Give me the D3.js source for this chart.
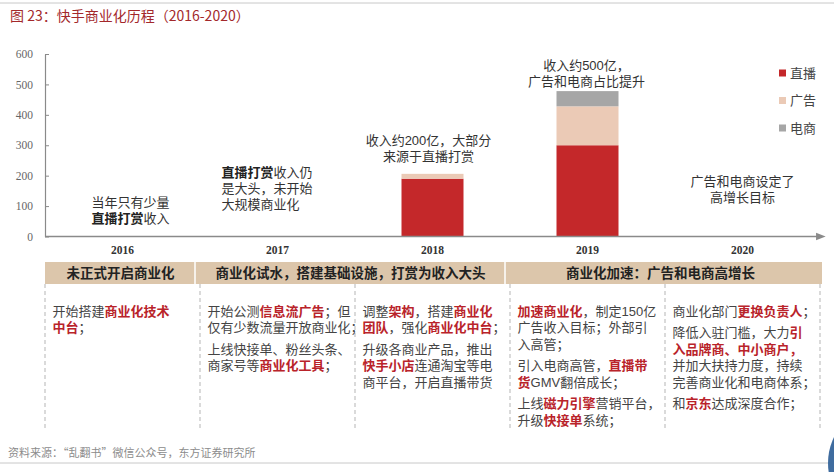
<!DOCTYPE html>
<html>
<head>
<meta charset="utf-8">
<script src="https://cdn.jsdelivr.net/npm/d3@7/dist/d3.min.js"></script>
<style>
	html, body { margin: 0; padding: 0; background: #fff; }
	svg { display: block; }
	.cjk { font-family: "Liberation Sans", "Noto Sans CJK SC", sans-serif; }
	.cjk-only { font-family: "Noto Sans CJK SC", sans-serif; }
	.serif { font-family: "Liberation Serif", "DejaVu Serif", serif; }
</style>
</head>
<body>
<div id="chart"></div>
<script>
// data
const years		= ['2016', '2017', '2018', '2019', '2020'];
const liveVals	= [0, 0, 190, 300, 0];
const adVals	= [0, 0, 16, 128, 0];
const ecomVals	= [0, 0, 0, 50, 0];
const seriesKeys	= ['live', 'ad', 'ecom'];
const seriesNames	= ['直播', '广告', '电商'];
const yTicks	= [0, 100, 200, 300, 400, 500, 600];

// ** ** = bold, [ ] = bold red
const barNotes = [
	['当年只有少量', '**直播打赏**收入'],
	['**直播打赏**收入仍', '是大头，未开始', '大规模商业化'],
	['收入约200亿，大部分', '来源于直播打赏'],
	['收入约500亿，', '广告和电商占比提升'],
	['广告和电商设定了', '高增长目标']
];

const phaseLabels	= ['未正式开启商业化', '商业化试水，搭建基础设施，打赏为收入大头', '商业化加速：广告和电商高增长'];
const phaseFrom		= ['2016', '2017', '2019'];
const phaseTo		= ['2016', '2018', '2020'];

const details = [
	[['开始搭建[商业化技术]', '[中台]；']],
	[['开始公测[信息流广告]；但', '仅有少数流量开放商业化；'],
	 ['上线快接单、粉丝头条、', '商家号等[商业化工具]；']],
	[['调整[架构]，搭建[商业化]', '[团队]，强化[商业化中台]；'],
	 ['升级各商业产品，推出', '[快手小店]连通淘宝等电', '商平台，开启直播带货']],
	[['[加速商业化]，制定150亿', '广告收入目标；外部引', '入高管；'],
	 ['引入电商高管，[直播带]', '[货]GMV翻倍成长；'],
	 ['上线[磁力引擎]营销平台，', '升级[快接单]系统；']],
	[['商业化部门[更换负责人]；'],
	 ['降低入驻门槛，大力[引]', '[入品牌商、中小商户，]', '并加大扶持力度，持续', '完善商业化和电商体系；'],
	 ['和[京东]达成深度合作；']]
];

const title		= '图 23：快手商业化历程（2016-2020）';
const source	= '资料来源：“乱翻书”微信公众号，东方证券研究所';

const colors	= { live: '#c4282a', ad: '#ebcab6', ecom: '#a6a6a6' };
const redText	= '#b9232a';

// layout
const canvasWidth	= 834;
const canvasHeight	= 472;

let svg = d3.select('#chart').append('svg')
	.attr('width', canvasWidth)
	.attr('height', canvasHeight);

let x = d3.scaleBand().domain(years).range([45, 820]).paddingInner(0.6).paddingOuter(0.3);
let y = d3.scaleLinear().domain([0, 600]).range([236.5, 54]);
let colLeft = (yr) => x(yr) - (x.step() - x.bandwidth()) / 2;
let colMid	= (yr) => x(yr) + x.bandwidth() / 2;

// rich text helper
function richLine(sel, str) {
	str.split(/(\[[^\]]*\]|\*\*[^*]*\*\*)/).filter((s) => s.length).forEach((s) => {
		let t = sel.append('tspan');
		if (s[0] === '[') {
			t.text(s.slice(1, -1)).attr('fill', redText).attr('font-weight', 'bold');
		} else if (s.startsWith('**')) {
			t.text(s.slice(2, -2)).attr('fill', '#222').attr('font-weight', 'bold');
		} else {
			t.text(s);
		}
	});
}

// frame lines
svg.append('line').attr('x1', 0).attr('x2', canvasWidth).attr('y1', 3).attr('y2', 3)
	.attr('stroke', '#c8c8c8').attr('stroke-width', 1);
svg.append('line').attr('x1', 0).attr('x2', canvasWidth).attr('y1', 463).attr('y2', 463)
	.attr('stroke', '#c8c8c8').attr('stroke-width', 1);

// title
svg.append('text').attr('class', 'cjk-only')
	.attr('x', 10).attr('y', 21)
	.attr('font-size', 14).attr('fill', '#a3282b')
	.text(title);

// bars
let table = years.map((yr, i) => ({ year: yr, live: liveVals[i], ad: adVals[i], ecom: ecomVals[i] }));
let stacked = d3.stack().keys(seriesKeys)(table);

svg.append('g').selectAll('g')
	.data(stacked).enter().append('g')
		.attr('fill', (s) => colors[s.key])
	.selectAll('rect')
	.data((s) => s.filter((d) => d[1] > d[0])).enter().append('rect')
		.attr('x', (d) => x(d.data.year))
		.attr('width', x.bandwidth())
		.attr('y', (d) => y(d[1]))
		.attr('height', (d) => y(d[0]) - y(d[1]));

// y axis
let yAxis = svg.append('g')
	.attr('transform', 'translate(' + x.range()[0] + ',0)')
	.call(d3.axisLeft(y).tickValues(yTicks).tickSize(-4).tickSizeOuter(0).tickPadding(12));
yAxis.select('.domain').attr('stroke', '#8a8a8a').attr('stroke-width', 1.2);
yAxis.selectAll('.tick line').attr('stroke', '#8a8a8a');
yAxis.selectAll('.tick text')
	.attr('class', 'serif').attr('font-size', 11.5).attr('fill', '#666');

// x axis with arrow
svg.append('defs').append('marker')
	.attr('id', 'arrow').attr('viewBox', '0 0 10 10')
	.attr('refX', 2).attr('refY', 5)
	.attr('markerWidth', 6).attr('markerHeight', 6)
	.attr('orient', 'auto')
	.append('path').attr('d', 'M0,1L10,5L0,9Z').attr('fill', '#8a8a8a');

svg.append('line')
	.attr('x1', x.range()[0]).attr('x2', x.range()[1] - 2)
	.attr('y1', y(0)).attr('y2', y(0))
	.attr('stroke', '#8a8a8a').attr('stroke-width', 1.6)
	.attr('marker-end', 'url(#arrow)');

let xAxis = svg.append('g')
	.attr('transform', 'translate(0,' + y(0) + ')')
	.call(d3.axisBottom(x).tickSize(0).tickPadding(9));
xAxis.select('.domain').remove();
xAxis.selectAll('.tick text')
	.attr('class', 'serif').attr('font-size', 11.5).attr('font-weight', 'bold').attr('fill', '#333');

// legend
let legend = svg.append('g').attr('class', 'cjk');
seriesKeys.forEach((k, i) => {
	let cy = 73 + i * 27.5;
	legend.append('rect')
		.attr('x', 779).attr('y', cy - 3.5).attr('width', 7).attr('height', 7)
		.attr('fill', colors[k]);
	legend.append('text')
		.attr('x', 790).attr('y', cy + 4.5)
		.attr('font-size', 13).attr('fill', '#444')
		.text(seriesNames[i]);
});

// bar annotations
let noteLayout = [
	{ dx: 8, top: 202, anchor: 'middle' },
	{ dx: -56, top: 172, anchor: 'start' },
	{ dx: -4, top: 140, anchor: 'middle' },
	{ dx: -1, top: 65, anchor: 'middle' },
	{ dx: 0, top: 181, anchor: 'middle' }
];
barNotes.forEach((lines, i) => {
	let lay = noteLayout[i];
	lines.forEach((ln, j) => {
		let t = svg.append('text').attr('class', 'cjk')
			.attr('x', colMid(years[i]) + lay.dx)
			.attr('y', lay.top + j * 16 + 4.5)
			.attr('text-anchor', lay.anchor)
			.attr('font-size', 13).attr('fill', '#333');
		richLine(t, ln);
	});
});

// table header
let headTop = 262, headBottom = 284, bodyBottom = 430;
svg.append('rect')
	.attr('x', x.range()[0]).attr('y', headTop)
	.attr('width', x.range()[1] + 2 - x.range()[0]).attr('height', headBottom - headTop)
	.attr('fill', '#dcc6ab');

phaseLabels.forEach((lbl, i) => {
	let x0 = colLeft(phaseFrom[i]) - (i > 0 ? 5 : 0);
	let x1 = colLeft(phaseTo[i]) + x.step();
	if (i > 0) {
		svg.append('line').attr('x1', x0).attr('x2', x0)
			.attr('y1', headTop).attr('y2', headBottom)
			.attr('stroke', '#fff').attr('stroke-width', 1.5);
	}
	svg.append('text').attr('class', 'cjk')
		.attr('x', (x0 + x1) / 2 - 2).attr('y', (headTop + headBottom) / 2 + 4.8)
		.attr('text-anchor', 'middle')
		.attr('font-size', 13.5).attr('font-weight', 'bold').attr('fill', '#222')
		.text(lbl);
});

// dashed column lines
let bounds = years.map(colLeft).concat([colLeft(years[years.length - 1]) + x.step()]);
svg.append('g').selectAll('line')
	.data(bounds).enter().append('line')
		.attr('x1', (d) => d).attr('x2', (d) => d)
		.attr('y1', headBottom).attr('y2', bodyBottom)
		.attr('stroke', '#b5b5b5').attr('stroke-width', 1)
		.attr('stroke-dasharray', '4,3');

// body text
let lineH = 16.5, paraGap = 5;
details.forEach((paras, i) => {
	let cy = 311;
	paras.forEach((para) => {
		para.forEach((ln) => {
			let t = svg.append('text').attr('class', 'cjk')
				.attr('x', colMid(years[i]) - 70)
				.attr('y', cy + 4.5)
				.attr('font-size', 13).attr('fill', '#444');
			richLine(t, ln);
			cy += lineH;
		});
		cy += paraGap;
	});
});

// source
svg.append('text').attr('class', 'cjk-only')
	.attr('x', 8).attr('y', 457)
	.attr('font-size', 11).attr('fill', '#8c8c8c')
	.text(source);

// floating button remnant
svg.append('circle')
	.attr('cx', 887).attr('cy', 463).attr('r', 59)
	.attr('fill', '#3f6c9f');
</script>
</body>
</html>
